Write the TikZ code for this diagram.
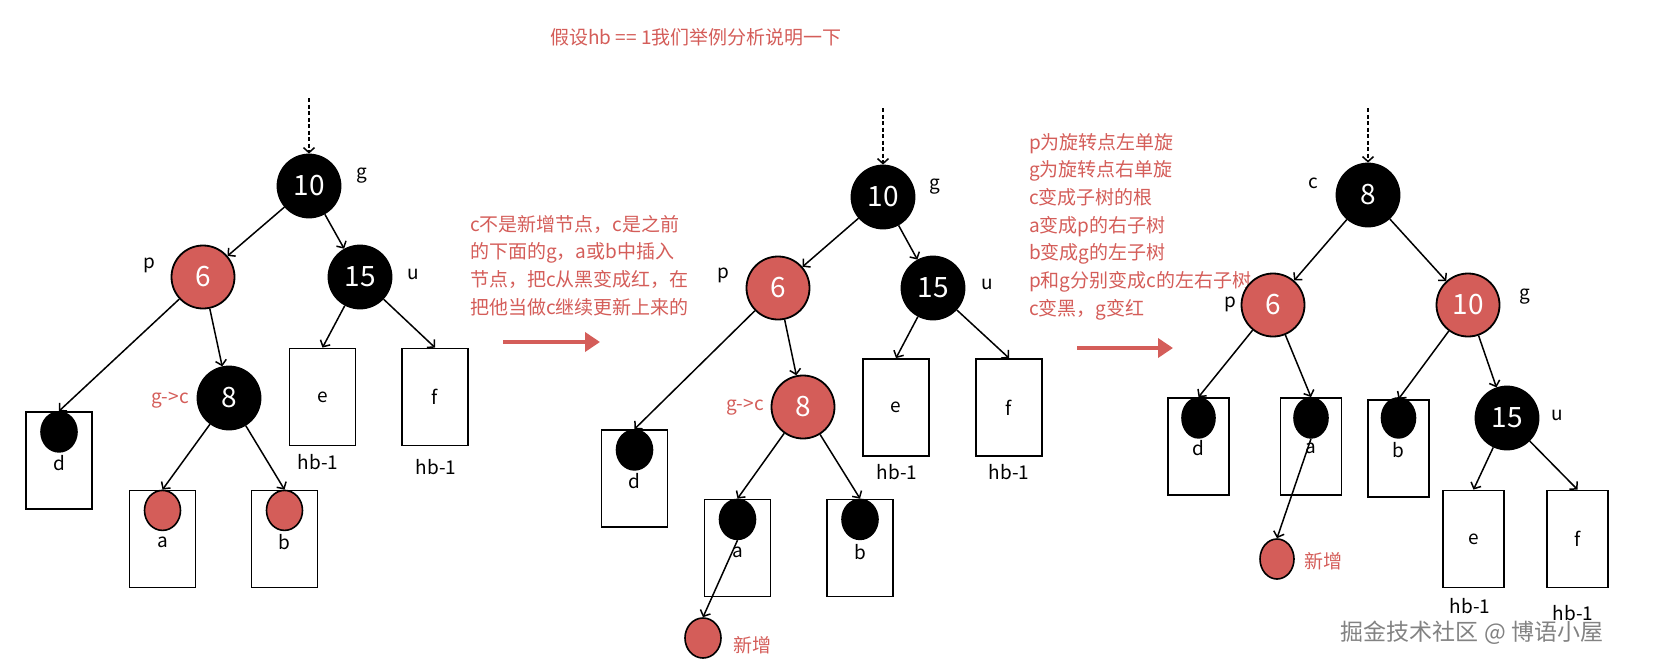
\documentclass[tikz,border=0pt]{standalone}
\usepackage{fontspec}
\setmainfont{Noto Sans CJK SC}
\usetikzlibrary{arrows.meta,positioning,shapes.geometric}
\definecolor{rbred}{RGB}{212,93,89}
\definecolor{wmgray}{RGB}{130,130,130}

\begin{document}
\begin{tikzpicture}[
    x=1pt, y=-1pt,
    rbnode/.style={circle, draw, line width=1.8pt, minimum size=63pt, inner sep=0pt,
                   text=white, font=\fontsize{28}{30}\selectfont},
    bnode/.style={rbnode, fill=black},
    rnode/.style={rbnode, fill=rbred},
    leafbox/.style={draw, line width=1.8pt, minimum width=66pt, minimum height=97pt, inner sep=0pt},
    leafdot/.style={ellipse, draw, line width=1.6pt, minimum width=36pt, minimum height=40pt, inner sep=0pt},
    bdot/.style={leafdot, fill=black},
    rdot/.style={leafdot, fill=rbred},
    lbl/.style={font=\fontsize{19}{21}\selectfont, inner sep=0pt},
    rlbl/.style={lbl, text=rbred},
    note/.style={rlbl, anchor=base west},
    arr/.style={-{Straight Barb[length=5pt,width=11pt]}, line width=1.5pt},
    dotarr/.style={arr, dash pattern=on 4pt off 2.5pt},
    bigarr/.style={-{Triangle[length=15pt,width=19pt]}, line width=4pt, rbred}
]
\useasboundingbox (0,0) rectangle (1666,667);

% title
\node[rlbl] (title) at (696,37) {假设hb == 1我们举例分析说明一下};

% ---- first tree ----
\coordinate (top1) at (309,98);
\node[bnode] (g1) at (309,186) {10};
\node[rnode] (p1) at (203,277) {6};
\node[bnode] (u1) at (360,277) {15};
\node[bnode] (c1) at (229,398) {8};
\node[leafbox] (d1) at (59,460.5) {};
\node[leafbox] (a1) at (162.5,539) {};
\node[leafbox] (b1) at (284.5,539) {};
\node[leafbox] (e1) at (322.5,397) {};
\node[leafbox] (f1) at (435,397) {};
\node[bdot, below=0pt of d1.north] (d1dot) {};
\node[rdot, below=0pt of a1.north] (a1dot) {};
\node[rdot, below=0pt of b1.north] (b1dot) {};
\node[lbl] (d1l) at ([yshift=-31pt]d1dot.center) {d};
\node[lbl] (a1l) at ([yshift=-32pt]a1dot.center) {a};
\node[lbl] (b1l) at ([yshift=-32pt]b1dot.center) {b};
\node[lbl] (e1l) at (e1) {e};
\node[lbl] (f1l) at (f1) {f};
\node[lbl] (e1h) at (318,462) {hb-1};
\node[lbl] (f1h) at (436,467) {hb-1};
\node[lbl] (g1t) at (362,176) {g};
\node[lbl] (p1t) at (149,265) {p};
\node[lbl] (u1t) at (413,274) {u};
\node[rlbl] (c1t) at (170,400) {g->c};

\draw[dotarr] (top1) -- (g1);
\draw[arr] (g1) -- (p1);
\draw[arr] (g1) -- (u1);
\draw[arr] (p1) -- (d1.north);
\draw[arr] (p1) -- (c1);
\draw[arr] (u1) -- (e1.north);
\draw[arr] (u1) -- (f1.north);
\draw[arr] (c1) -- (a1.north);
\draw[arr] (c1) -- (b1.north);

% first step
\foreach \txt [count=\i] in {c不是新增节点，c是之前, 的下面的g，a或b中插入,
                             节点，把c从黑变成红，在, 把他当做c继续更新上来的}
    \node[note, name=s1-\i] at (470,{231+27.8*(\i-1)}) {\txt};
\coordinate (s1a) at (503,342);
\coordinate (s1b) at (600,342);
\draw[bigarr] (s1a) -- (s1b);

% ---- second tree ----
\coordinate (top2) at (883,108);
\node[bnode] (g2) at (883,197) {10};
\node[rnode] (p2) at (778,288) {6};
\node[bnode] (u2) at (933,288) {15};
\node[rnode] (c2) at (803,407) {8};
\node[leafbox] (d2) at (634.5,478.5) {};
\node[leafbox] (a2) at (737.5,548) {};
\node[leafbox] (b2) at (860,548) {};
\node[leafbox] (e2) at (896,407.5) {};
\node[leafbox] (f2) at (1009,407.5) {};
\node[bdot, below=0pt of d2.north] (d2dot) {};
\node[bdot, below=0pt of a2.north] (a2dot) {};
\node[bdot, below=0pt of b2.north] (b2dot) {};
\node[lbl] (d2l) at ([yshift=-31pt]d2dot.center) {d};
\node[lbl] (a2l) at ([yshift=-33pt]a2dot.center) {a};
\node[lbl] (b2l) at ([yshift=-33pt]b2dot.center) {b};
\node[lbl] (e2l) at (e2) {e};
\node[lbl] (f2l) at (f2) {f};
\node[lbl] (e2h) at (897,472) {hb-1};
\node[lbl] (f2h) at (1009,472) {hb-1};
\node[rdot] (n2) at (703,638) {};
\node[rlbl] (n2l) at (752,645) {新增};
\node[lbl] (g2t) at (935,187) {g};
\node[lbl] (p2t) at (723,275) {p};
\node[lbl] (u2t) at (987,284) {u};
\node[rlbl] (c2t) at (745,407) {g->c};

\draw[dotarr] (top2) -- (g2);
\draw[arr] (g2) -- (p2);
\draw[arr] (g2) -- (u2);
\draw[arr] (p2) -- (d2.north);
\draw[arr] (p2) -- (c2);
\draw[arr] (u2) -- (e2.north);
\draw[arr] (u2) -- (f2.north);
\draw[arr] (c2) -- (a2.north);
\draw[arr] (c2) -- (b2.north);
\draw[arr] (a2dot.south) -- (n2.north);

% second step
\foreach \txt [count=\i] in {p为旋转点左单旋, g为旋转点右单旋, c变成子树的根, a变成p的右子树,
                             b变成g的左子树, p和g分别变成c的左右子树, c变黑，g变红}
    \node[note, name=s2-\i] at (1029,{149+27.7*(\i-1)}) {\txt};
\coordinate (s2a) at (1077,348);
\coordinate (s2b) at (1173,348);
\draw[bigarr] (s2a) -- (s2b);

% ---- third tree ----
\coordinate (top3) at (1368,108);
\node[bnode] (c3) at (1368,195) {8};
\node[rnode] (p3) at (1273,305) {6};
\node[rnode] (g3) at (1468,305) {10};
\node[bnode] (u3) at (1507,418) {15};
\node[leafbox, minimum width=61pt] (d3) at (1198.5,446.5) {};
\node[leafbox, minimum width=61pt] (a3) at (1311,446.5) {};
\node[leafbox, minimum width=61pt] (b3) at (1398.5,448.5) {};
\node[leafbox, minimum width=61pt] (e3) at (1473.5,539) {};
\node[leafbox, minimum width=61pt] (f3) at (1577.5,539) {};
\node[bdot, minimum width=33pt, below=0pt of d3.north] (d3dot) {};
\node[bdot, minimum width=34pt, below=0pt of a3.north] (a3dot) {};
\node[bdot, minimum width=34pt, below=-2pt of b3.north] (b3dot) {};
\node[lbl] (d3l) at ([yshift=-30pt]d3dot.center) {d};
\node[lbl] (a3l) at ([yshift=-30pt]a3dot.center) {a};
\node[lbl] (b3l) at ([yshift=-32pt]b3dot.center) {b};
\node[lbl] (e3l) at (e3) {e};
\node[lbl] (f3l) at (f3) {f};
\node[lbl] (e3h) at (1470,606) {hb-1};
\node[lbl] (f3h) at (1573,613) {hb-1};
\node[rdot, minimum width=34pt] (n3) at (1277,559) {};
\node[rlbl] (n3l) at (1323,561) {新增};
\node[lbl] (c3t) at (1313,183) {c};
\node[lbl] (p3t) at (1230,304) {p};
\node[lbl] (g3t) at (1525,297) {g};
\node[lbl] (u3t) at (1557,415) {u};

\draw[dotarr] (top3) -- (c3);
\draw[arr] (c3) -- (p3);
\draw[arr] (c3) -- (g3);
\draw[arr] (p3) -- (d3.north);
\draw[arr] (p3) -- (a3.north);
\draw[arr] (g3) -- (b3.north);
\draw[arr] (g3) -- (u3);
\draw[arr] (u3) -- (e3.north);
\draw[arr] (u3) -- (f3.north);
\draw[arr] (a3dot.south) -- (n3.north);

% watermark
\node[font=\fontsize{23}{25}\selectfont, text=wmgray, inner sep=0pt] (mark) at (1472,633)
    {掘金技术社区 @ 博语小屋};
\end{tikzpicture}
\end{document}
